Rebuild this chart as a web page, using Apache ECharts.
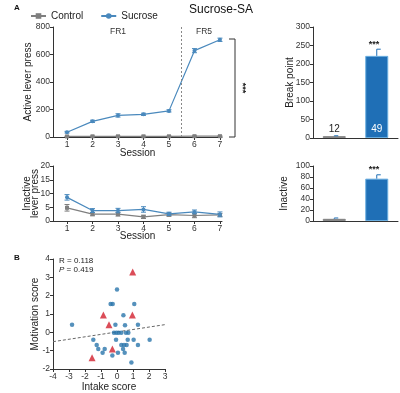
<!DOCTYPE html>
<html>
<head>
<meta charset="utf-8">
<script src="https://cdn.jsdelivr.net/npm/echarts@6/dist/echarts.min.js"></script>
<style>
  html, body { margin: 0; padding: 0; background: #fff; }
  #main { width: 400px; height: 393px; }
</style>
</head>
<body>
<div id="main"></div>
<script>
// sessions 1..7
const sessions = [1, 2, 3, 4, 5, 6, 7]
// active lever press (mean, sem)
const activeSucrose = [35, 114, 157, 165, 190, 628, 707]
const activeSucroseErr = [6, 8, 12, 8, 8, 15, 12]
const activeControl = [4, 5, 5, 5, 5, 6, 6]
const activeControlErr = [2, 2, 2, 2, 2, 2, 2]
// inactive lever press
const inactiveSucrose = [8.6, 3.8, 3.8, 4.2, 2.6, 3.3, 2.4]
const inactiveSucroseErr = [1.0, 0.7, 0.8, 1.0, 0.6, 0.7, 0.9]
const inactiveControl = [4.8, 2.5, 2.5, 1.5, 2.3, 2.0, 2.2]
const inactiveControlErr = [1.2, 0.6, 0.7, 0.6, 0.6, 0.8, 0.5]
// bar charts
const groups = ['Control', 'Sucrose']
const breakPoint = [5, 222]
const breakPointErr = [1, 18]
const inactiveTotal = [4, 77]
const inactiveTotalErr = [1.5, 7]
const nCounts = [12, 49]
// scatter B
const sucrosePoints = [
  [0, 2.33], [-0.4, 1.55], [-0.27, 1.55], [1.08, 1.55], [0.4, 0.93],
  [-2.81, 0.42], [-0.1, 0.42], [0.5, 0.38], [1.31, 0.42],
  [-0.19, -0.02], [-0.04, -0.02], [0.1, -0.02], [0.27, -0.02], [0.56, -0.02], [0.71, -0.02],
  [-1.48, -0.4], [-0.06, -0.4], [0.67, -0.4], [1.04, -0.4], [2.04, -0.4],
  [-1.27, -0.69], [0.27, -0.69], [0.44, -0.69], [0.6, -0.69], [1.31, -0.69],
  [-1.17, -0.91], [-0.77, -0.91], [0.38, -0.91],
  [-0.9, -1.11], [0.06, -1.11], [0.48, -1.11], [-0.29, -1.27], [0.9, -1.65]
]
const highPoints = [[0.98, 3.29], [-0.85, 0.95], [0.96, 0.95], [-0.5, 0.42], [-0.29, -0.91], [-1.56, -1.38]]
const regLine = [[-4, -0.51], [3, 0.42]]

const blue = '#4a89bd'
const gray = '#7f7f7f'
const axisColor = '#333'
const tickFont = 8.5
const nameFont = 10

function zip(a, b) { return a.map((v, i) => [sessions[i], v, b[i]]) }

// vertical error bar with caps, drawn through the axis scale
function errBar(upOnly) {
  return function (params, api) {
    const x = api.value(0), y = api.value(1), e = api.value(2)
    const top = api.coord([x, y + e])
    const bot = api.coord([x, upOnly ? y : y - e])
    const c = api.visual('color')
    const w = 2.5
    const kids = [
      { type: 'line', shape: { x1: top[0], y1: top[1], x2: bot[0], y2: bot[1] }, style: { stroke: c, lineWidth: 1 } },
      { type: 'line', shape: { x1: top[0] - (upOnly ? 0 : w), y1: top[1], x2: top[0] + (upOnly ? 4 : w), y2: top[1] }, style: { stroke: c, lineWidth: 1 } }
    ]
    if (!upOnly) kids.push({ type: 'line', shape: { x1: bot[0] - w, y1: bot[1], x2: bot[0] + w, y2: bot[1] }, style: { stroke: c, lineWidth: 1 } })
    return { type: 'group', children: kids }
  }
}

const baseAxis = {
  nameMoveOverlap: false,
  axisLine: { show: true, onZero: false, lineStyle: { color: axisColor } },
  axisTick: { show: true, length: 3, lineStyle: { color: axisColor } },
  axisLabel: { color: axisColor, fontSize: tickFont, margin: 3, fontFamily: 'Liberation Sans' },
  splitLine: { show: false },
  nameTextStyle: { color: '#222', fontSize: nameFont, fontFamily: 'Liberation Sans' }
}
function ax(o) { return Object.assign({}, JSON.parse(JSON.stringify(baseAxis)), o) }

const sessionAxis = (gi, nameGap) => ax({
  type: 'value', gridIndex: gi, min: 0.45, max: 7.08,
  name: 'Session', nameLocation: 'middle', nameGap: nameGap,
  axisTick: { show: true, length: 3, lineStyle: { color: axisColor }, customValues: sessions },
  axisLabel: { color: axisColor, fontSize: tickFont, margin: 3, customValues: sessions, fontFamily: 'Liberation Sans' }
})

const myChart = echarts.init(document.getElementById('main'))
myChart.setOption({
  animation: false,
  textStyle: { fontFamily: 'Liberation Sans' },
  legend: {
    left: 25, top: 6, itemWidth: 15, itemHeight: 7, itemGap: 17,
    textStyle: { fontSize: 10, color: '#222' },
    data: ['Control', 'Sucrose']
  },
  grid: [
    { left: 53, top: 27, width: 169, height: 110 },
    { left: 53, top: 166, width: 169, height: 55 },
    { left: 313, top: 27, width: 85, height: 111 },
    { left: 313, top: 166, width: 85, height: 55 },
    { left: 53, top: 259, width: 112, height: 110 }
  ],
  xAxis: [
    sessionAxis(0, 11),
    sessionAxis(1, 10),
    ax({ type: 'category', gridIndex: 2, data: groups, axisTick: { show: false }, axisLabel: { show: false } }),
    ax({ type: 'category', gridIndex: 3, data: groups, axisTick: { show: false }, axisLabel: { show: false } }),
    ax({ type: 'value', gridIndex: 4, min: -4, max: 3, interval: 1, name: 'Intake score', nameLocation: 'middle', nameGap: 13 })
  ],
  yAxis: [
    ax({ type: 'value', gridIndex: 0, min: 0, max: 800, interval: 200, name: 'Active lever press', nameLocation: 'middle', nameGap: 20 }),
    ax({ type: 'value', gridIndex: 1, min: 0, max: 20, interval: 5, name: 'Inactive\nlever press', nameLocation: 'middle', nameGap: 14,
      nameTextStyle: { color: '#222', fontSize: nameFont, lineHeight: 8, fontFamily: 'Liberation Sans' } }),
    ax({ type: 'value', gridIndex: 2, min: 0, max: 300, interval: 50, name: 'Break point', nameLocation: 'middle', nameGap: 18 }),
    ax({ type: 'value', gridIndex: 3, min: 0, max: 100, interval: 20, name: 'Inactive', nameLocation: 'middle', nameGap: 24 }),
    ax({ type: 'value', gridIndex: 4, min: -2, max: 4, interval: 1, name: 'Motivation score', nameLocation: 'middle', nameGap: 13 })
  ],
  series: [
    {
      name: 'Control', type: 'line', xAxisIndex: 0, yAxisIndex: 0,
      data: activeControl.map((v, i) => [sessions[i], v]),
      color: gray, symbol: 'rect', symbolSize: 4, lineStyle: { width: 1.2 }, z: 3
    },
    {
      name: 'Sucrose', type: 'line', xAxisIndex: 0, yAxisIndex: 0,
      data: activeSucrose.map((v, i) => [sessions[i], v]),
      color: blue, symbol: 'circle', symbolSize: 4, lineStyle: { width: 1.2 }, z: 4,
      markLine: {
        silent: true, symbol: 'none', label: { show: false },
        lineStyle: { color: '#888', type: [2, 2], width: 1 },
        data: [{ xAxis: 5.5 }]
      }
    },
    { type: 'custom', xAxisIndex: 0, yAxisIndex: 0, color: gray, renderItem: errBar(false), data: zip(activeControl, activeControlErr), z: 3 },
    { type: 'custom', xAxisIndex: 0, yAxisIndex: 0, color: blue, renderItem: errBar(false), data: zip(activeSucrose, activeSucroseErr), z: 4 },

    {
      name: 'Control', type: 'line', xAxisIndex: 1, yAxisIndex: 1,
      data: inactiveControl.map((v, i) => [sessions[i], v]),
      color: gray, symbol: 'rect', symbolSize: 4, lineStyle: { width: 1.2 }, z: 3
    },
    {
      name: 'Sucrose', type: 'line', xAxisIndex: 1, yAxisIndex: 1,
      data: inactiveSucrose.map((v, i) => [sessions[i], v]),
      color: blue, symbol: 'circle', symbolSize: 4, lineStyle: { width: 1.2 }, z: 4
    },
    { type: 'custom', xAxisIndex: 1, yAxisIndex: 1, color: gray, renderItem: errBar(false), data: zip(inactiveControl, inactiveControlErr), z: 3 },
    { type: 'custom', xAxisIndex: 1, yAxisIndex: 1, color: blue, renderItem: errBar(false), data: zip(inactiveSucrose, inactiveSucroseErr), z: 4 },

    {
      type: 'bar', xAxisIndex: 2, yAxisIndex: 2, barWidth: 23,
      data: breakPoint.map((v, i) => ({
        value: v,
        itemStyle: i === 0 ? { color: '#555', borderColor: '#888', borderWidth: 1 } : { color: '#1f6fb6', borderColor: '#6aaee0', borderWidth: 1 },
        label: i === 0
          ? { show: true, position: 'top', distance: 2, formatter: String(nCounts[i]), color: '#222', fontSize: 10 }
          : { show: true, position: 'insideBottom', distance: 4, formatter: String(nCounts[i]), color: '#fff', fontSize: 10 }
      }))
    },
    {
      type: 'custom', xAxisIndex: 2, yAxisIndex: 2, renderItem: errBar(true),
      data: breakPoint.map((v, i) => [i, v, breakPointErr[i]]),
      encode: { x: 0, y: 1 }, color: '#1f6fb6', z: 5
    },
    {
      type: 'bar', xAxisIndex: 3, yAxisIndex: 3, barWidth: 23,
      data: inactiveTotal.map((v, i) => ({
        value: v,
        itemStyle: i === 0 ? { color: '#555', borderColor: '#888', borderWidth: 1 } : { color: '#1f6fb6', borderColor: '#6aaee0', borderWidth: 1 }
      }))
    },
    {
      type: 'custom', xAxisIndex: 3, yAxisIndex: 3, renderItem: errBar(true),
      data: inactiveTotal.map((v, i) => [i, v, inactiveTotalErr[i]]),
      encode: { x: 0, y: 1 }, color: '#1f6fb6', z: 5
    },

    {
      type: 'line', xAxisIndex: 4, yAxisIndex: 4, data: regLine, symbol: 'none',
      lineStyle: { color: '#666', type: [3, 2], width: 1 }, z: 1
    },
    {
      type: 'scatter', xAxisIndex: 4, yAxisIndex: 4, data: sucrosePoints,
      symbol: 'circle', symbolSize: 4.5, itemStyle: { color: '#2a76ab' }, z: 3
    },
    {
      type: 'scatter', xAxisIndex: 4, yAxisIndex: 4, data: highPoints,
      symbol: 'triangle', symbolSize: 7, itemStyle: { color: '#d2202e' }, z: 4
    }
  ],
  graphic: [
    { type: 'text', left: 14, top: 4, style: { text: 'A', font: 'bold 8px Liberation Sans', fill: '#111' } },
    { type: 'text', left: 14, top: 254, style: { text: 'B', font: 'bold 8px Liberation Sans', fill: '#111' } },
    { type: 'text', x: 221, y: 4, style: { text: 'Sucrose-SA', font: '12px Liberation Sans', fill: '#111', textAlign: 'center' } },
    { type: 'text', x: 118, y: 27, style: { text: 'FR1', font: '8.5px Liberation Sans', fill: '#333', textAlign: 'center' } },
    { type: 'text', x: 204, y: 27, style: { text: 'FR5', font: '8.5px Liberation Sans', fill: '#333', textAlign: 'center' } },
    { type: 'polyline', shape: { points: [[229, 39], [235, 39], [235, 137], [229, 137]] }, style: { stroke: '#333', fill: null, lineWidth: 1 } },
    { type: 'text', x: 242, y: 88, rotation: -Math.PI / 2, style: { text: '***', font: 'bold 9px Liberation Sans', fill: '#222', textAlign: 'center', textVerticalAlign: 'middle' } },
    { type: 'text', x: 374, y: 40, style: { text: '***', font: 'bold 9px Liberation Sans', fill: '#222', textAlign: 'center' } },
    { type: 'text', x: 374, y: 165, style: { text: '***', font: 'bold 9px Liberation Sans', fill: '#222', textAlign: 'center' } },
    {
      type: 'text', x: 59, y: 256,
      style: {
        text: 'R = 0.118\n{i|P} = 0.419', font: '8px Liberation Sans', fill: '#222', lineHeight: 9,
        rich: { i: { fontStyle: 'italic', fontSize: 8, fontFamily: 'Liberation Sans' } }
      }
    }
  ]
})
</script>
</body>
</html>
